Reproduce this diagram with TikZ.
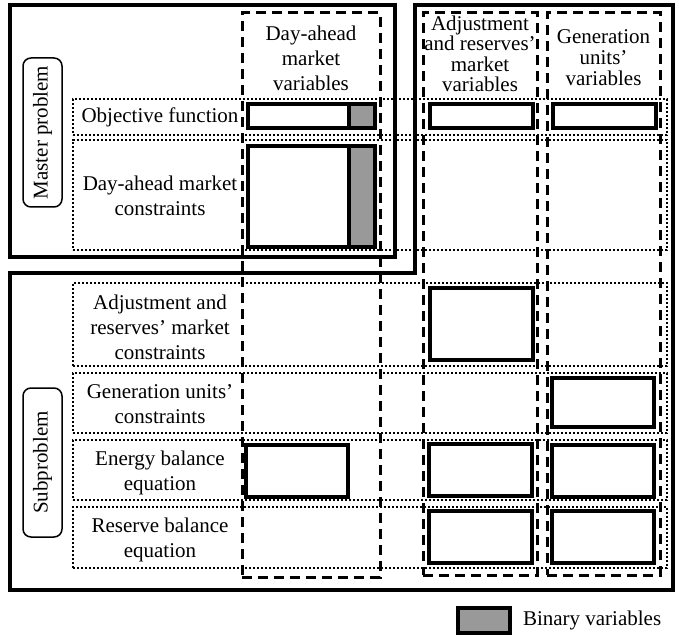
\documentclass[tikz,border=0pt]{standalone}
\usepackage{fontspec}
\setmainfont{Liberation Serif}
\begin{document}
\begin{tikzpicture}[x=1pt,y=-1pt,
  every node/.style={inner sep=0pt,outer sep=0pt},
  txt/.style={align=center,font=\fontsize{21}{25}\selectfont},
  bigbox/.style={draw,line width=4.5pt,rectangle},
  colbox/.style={draw,line width=3pt,dash pattern=on 10pt off 6pt,rectangle},
  rowbox/.style={draw,line width=2.5pt,dash pattern=on 2.2pt off 1.8pt,rectangle},
  solidbox/.style={draw,line width=3.6pt,rectangle,fill=white},
  graybox/.style={draw,line width=3.6pt,rectangle,fill=black!40},
  tagbox/.style={draw,line width=1.5pt,rounded corners=8pt,rectangle,rotate=90,
    minimum width=149pt,minimum height=39pt,font=\fontsize{21}{25}\selectfont}
]
\useasboundingbox (0,0) rectangle (679,636);

% dotted rows
\node[rowbox,minimum width=594pt,minimum height=36pt] (r1) at (370,117) {};
\node[rowbox,minimum width=594pt,minimum height=110pt] (r2) at (370,195) {};
\node[rowbox,minimum width=594pt,minimum height=83pt] (r3) at (370,324.5) {};
\node[rowbox,minimum width=594pt,minimum height=60pt] (r4) at (370,403) {};
\node[rowbox,minimum width=594pt,minimum height=60pt] (r5) at (370,470) {};
\node[rowbox,minimum width=594pt,minimum height=61pt] (r6) at (370,537.5) {};

% dashed columns
\node[colbox,minimum width=138pt,minimum height=564pt] (cDA) at (311,295) {};
\node[colbox,minimum width=114pt,minimum height=562pt] (cAdj) at (480,294) {};
\node[colbox,minimum width=113pt,minimum height=562pt] (cGen) at (603.5,294) {};

% master and subproblem outlines
\node[bigbox,minimum width=385pt,minimum height=252pt] (master) at (202.5,131) {};
\coordinate (s1) at (10,273);
\coordinate (s2) at (415,273);
\coordinate (s3) at (415,5);
\coordinate (s4) at (673,5);
\coordinate (s5) at (673,590);
\coordinate (s6) at (10,590);
\draw[line width=4.5pt,line join=miter] (s1) -- (s2) -- (s3) -- (s4) -- (s5) -- (s6) -- cycle;

% tags
\node[tagbox] (tm) at (42.5,132.5) {Master problem};
\node[tagbox] (ts) at (42.5,462.5) {Subproblem};

% column headers
\node[txt] (hDA) at (311,58) {Day-ahead\\market\\variables};
\node[txt,font=\fontsize{21}{20.5}\selectfont] (hAdj) at (480,54) {Adjustment\\and reserves’\\market\\variables};
\node[txt,font=\fontsize{21}{21}\selectfont] (hGen) at (603.5,57.5) {Generation\\units’\\variables};

% row labels
\node[txt] (l1) at (160,117) {Objective function};
\node[txt] (l2) at (160,195.5) {Day-ahead market\\constraints};
\node[txt] (l3) at (160,327.5) {Adjustment and\\reserves’ market\\constraints};
\node[txt] (l4) at (160,404.5) {Generation units’\\constraints};
\node[txt] (l5) at (160,472.5) {Energy balance\\equation};
\node[txt] (l6) at (160,539.5) {Reserve balance\\equation};

% solid boxes
\node[solidbox,minimum width=101pt,minimum height=24pt] (oDAw) at (298.5,116) {};
\node[graybox,minimum width=26pt,minimum height=24pt] (oDAg) at (362,116) {};
\node[solidbox,minimum width=101pt,minimum height=101pt] (cDAw) at (298.5,196.5) {};
\node[graybox,minimum width=26pt,minimum height=101pt] (cDAg) at (362,196.5) {};
\node[solidbox,minimum width=103pt,minimum height=24pt] (oAdj) at (481.5,116) {};
\node[solidbox,minimum width=103pt,minimum height=24pt] (oGen) at (604.5,116) {};
\node[solidbox,minimum width=103pt,minimum height=72pt] (kAdj) at (481.5,324) {};
\node[solidbox,minimum width=102pt,minimum height=49pt] (kGen) at (603,402.5) {};
\node[solidbox,minimum width=102pt,minimum height=52pt] (eDA) at (297,471) {};
\node[solidbox,minimum width=103pt,minimum height=52pt] (eAdj) at (480.5,470) {};
\node[solidbox,minimum width=102pt,minimum height=52pt] (eGen) at (603,471) {};
\node[solidbox,minimum width=103pt,minimum height=52pt] (bAdj) at (480.5,537) {};
\node[solidbox,minimum width=102pt,minimum height=52pt] (bGen) at (603,537) {};

% legend
\node[graybox,minimum width=52pt,minimum height=25pt] (leg) at (484,620.5) {};
\node[txt,anchor=west] (legt) at (523,620) {Binary variables};
\end{tikzpicture}
\end{document}
